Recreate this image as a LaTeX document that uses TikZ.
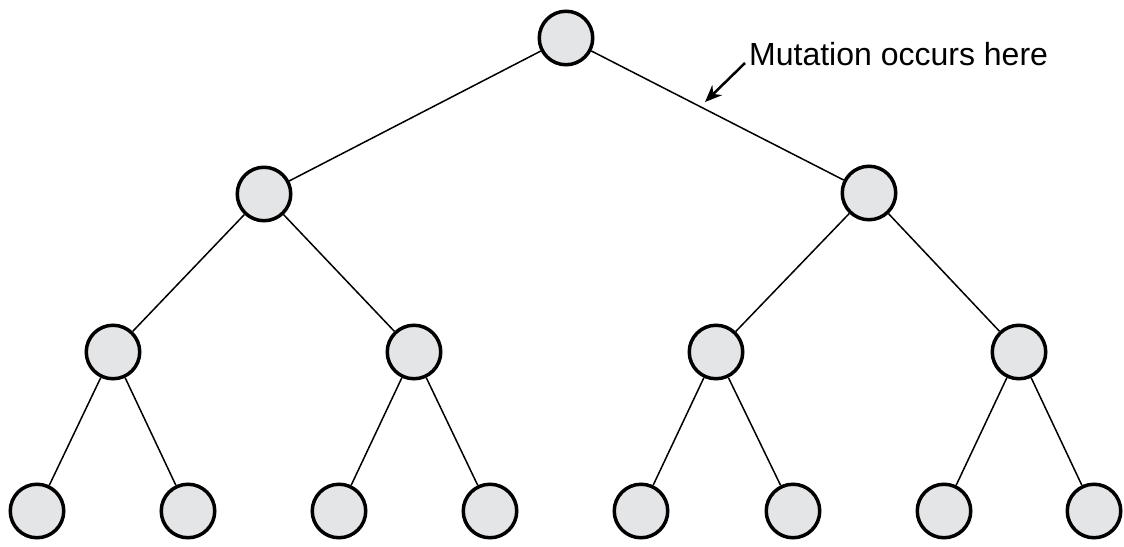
\documentclass[tikz,border=0pt]{standalone}
\usepackage{fontspec}
\setmainfont{Liberation Sans}
\usetikzlibrary{arrows.meta}
\definecolor{nodefill}{RGB}{228,229,231}
\begin{document}
\begin{tikzpicture}[x=1pt,y=-1pt,
  treenode/.style={circle,draw=black,fill=nodefill,line width=3.5pt,minimum size=53.5pt,inner sep=0pt},
  treeedge/.style={line width=1.5pt,black},
  callout/.style={line width=2.5pt,-{Stealth[length=17pt,width=14pt]}},
  lbl/.style={font=\fontsize{32}{38}\selectfont,inner sep=0pt,anchor=base west}]
\useasboundingbox (0,0) rectangle (1124,546);
% nodes
\node[treenode] (r) at (566,38) {};
\node[treenode] (a) at (264,194) {};
\node[treenode] (b) at (869,193) {};
\node[treenode] (a1) at (113,352) {};
\node[treenode] (a2) at (414,352) {};
\node[treenode] (b1) at (716,352) {};
\node[treenode] (b2) at (1019,352) {};
\node[treenode] (l1) at (37,511) {};
\node[treenode] (l2) at (188,511) {};
\node[treenode] (l3) at (339,511) {};
\node[treenode] (l4) at (490,511) {};
\node[treenode] (l5) at (641,511) {};
\node[treenode] (l6) at (793,511) {};
\node[treenode] (l7) at (944,511) {};
\node[treenode] (l8) at (1094,511) {};
% edges
\draw[treeedge] (r) -- (a);
\draw[treeedge] (r) -- (b);
\draw[treeedge] (a) -- (a1);
\draw[treeedge] (a) -- (a2);
\draw[treeedge] (b) -- (b1);
\draw[treeedge] (b) -- (b2);
\draw[treeedge] (a1) -- (l1);
\draw[treeedge] (a1) -- (l2);
\draw[treeedge] (a2) -- (l3);
\draw[treeedge] (a2) -- (l4);
\draw[treeedge] (b1) -- (l5);
\draw[treeedge] (b1) -- (l6);
\draw[treeedge] (b2) -- (l7);
\draw[treeedge] (b2) -- (l8);
% label
\node[lbl] (t) at (749,65) {Mutation occurs here};
\coordinate (as) at (745,63);
\coordinate (ae) at (705,102);
\draw[callout] (as) -- (ae);
\end{tikzpicture}
\end{document}
